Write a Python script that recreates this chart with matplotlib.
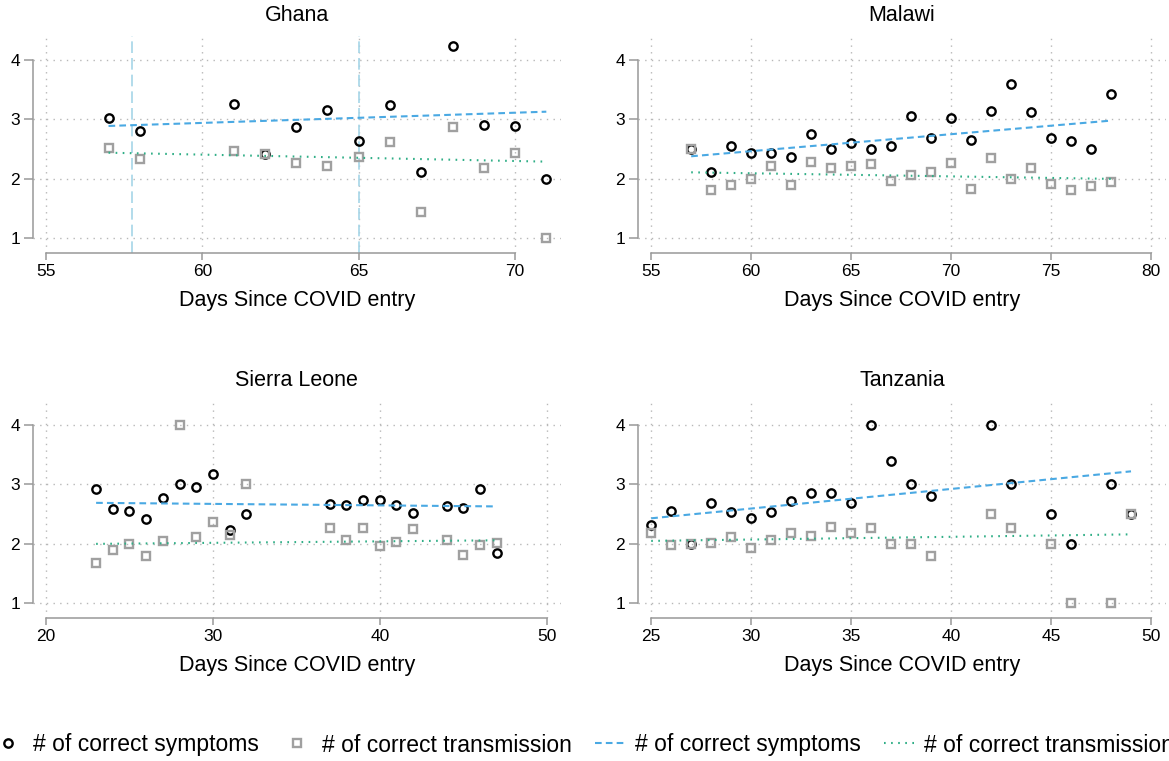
import matplotlib
matplotlib.use("Agg")
import matplotlib.pyplot as plt
from matplotlib.lines import Line2D

plt.rcParams['font.family'] = ['Liberation Sans', 'DejaVu Sans']

# ---------------- data ----------------
countries = ["Ghana", "Malawi", "Sierra Leone", "Tanzania"]

ghana_days = [57, 58, 61, 62, 63, 64, 65, 66, 67, 68, 69, 70, 71]
ghana_sym = [3.02, 2.80, 3.26, 2.42, 2.87, 3.16, 2.64, 3.24, 2.11, 4.23, 2.91, 2.89, 1.99]
ghana_tra = [2.52, 2.33, 2.47, 2.42, 2.26, 2.21, 2.36, 2.62, 1.44, 2.88, 2.18, 2.44, 1.00]
ghana_fit_days = [57, 71]
ghana_fit_sym = [2.89, 3.13]
ghana_fit_tra = [2.44, 2.29]
ghana_xlines = [57.75, 65]

malawi_days = [57, 58, 59, 60, 61, 62, 63, 64, 65, 66, 67, 68, 69, 70, 71, 72, 73, 74, 75, 76, 77, 78]
malawi_sym = [2.50, 2.11, 2.56, 2.43, 2.43, 2.37, 2.76, 2.50, 2.61, 2.50, 2.55, 3.06,
              2.69, 3.03, 2.66, 3.15, 3.60, 3.13, 2.68, 2.64, 2.50, 3.43]
malawi_tra = [2.50, 1.81, 1.89, 2.00, 2.22, 1.90, 2.29, 2.18, 2.22, 2.25, 1.97, 2.06,
              2.11, 2.27, 1.83, 2.35, 2.00, 2.19, 1.92, 1.82, 1.88, 1.94]
malawi_fit_days = [57, 78]
malawi_fit_sym = [2.38, 2.98]
malawi_fit_tra = [2.11, 2.00]

sl_days = [23, 24, 25, 26, 27, 28, 29, 30, 31, 32, 37, 38, 39, 40, 41, 42, 44, 45, 46, 47]
sl_sym = [2.92, 2.59, 2.56, 2.41, 2.77, 3.00, 2.95, 3.18, 2.24, 2.51, 2.67, 2.65, 2.74,
          2.74, 2.66, 2.52, 2.63, 2.61, 2.93, 1.85]
sl_tra = [1.67, 1.90, 2.00, 1.79, 2.05, 4.00, 2.12, 2.36, 2.15, 3.00, 2.27, 2.06, 2.27,
          1.97, 2.03, 2.25, 2.07, 1.81, 1.98, 2.01]
sl_fit_days = [23, 47]
sl_fit_sym = [2.69, 2.63]
sl_fit_tra = [2.00, 2.06]

tz_days = [25, 26, 27, 28, 29, 30, 31, 32, 33, 34, 35, 36, 37, 38, 39, 42, 43, 45, 46, 48, 49]
tz_sym = [2.31, 2.56, 2.00, 2.69, 2.53, 2.43, 2.54, 2.72, 2.85, 2.86, 2.69, 4.00, 3.40,
          3.00, 2.80, 4.00, 3.00, 2.50, 2.00, 3.00, 2.50]
tz_tra = [2.18, 1.98, 2.00, 2.02, 2.12, 1.93, 2.06, 2.19, 2.13, 2.29, 2.19, 2.26, 2.00,
          2.00, 1.80, 2.50, 2.26, 2.00, 1.00, 1.00, 2.50]
tz_fit_days = [25, 49]
tz_fit_sym = [2.43, 3.22]
tz_fit_tra = [2.05, 2.16]

ghana_xticks = [55, 60, 65, 70]
malawi_xticks = [55, 60, 65, 70, 75, 80]
sl_xticks = [20, 30, 40, 50]
tz_xticks = [25, 30, 35, 40, 45, 50]
yticks = [1, 2, 3, 4]

xlabel = "Days Since COVID entry"
legend_labels = ["# of correct symptoms", "# of correct transmission",
                 "# of correct symptoms", "# of correct transmission"]

# ---------------- styling ----------------
W, H = 1169, 761
fig = plt.figure(figsize=(W / 100, H / 100), dpi=100)
fig.patch.set_facecolor("white")

SYM_C = "black"
TRA_C = "#a0a0a0"
FIT_SYM_C = "#4aa9e3"
FIT_TRA_C = "#2fae86"
XLINE_C = "#a6d6e8"
GRID_C = "#b8b8b8"
AXIS_C = "#999999"

panels = [
    dict(name=countries[0], days=ghana_days, sym=ghana_sym, tra=ghana_tra,
         fd=ghana_fit_days, fs=ghana_fit_sym, ft=ghana_fit_tra, xt=ghana_xticks,
         xlim=(54.575, 71.46), xlines=ghana_xlines, pos=(32.7, 35.6)),
    dict(name=countries[1], days=malawi_days, sym=malawi_sym, tra=malawi_tra,
         fd=malawi_fit_days, fs=malawi_fit_sym, ft=malawi_fit_tra, xt=malawi_xticks,
         xlim=(54.34, 80.75), xlines=[], pos=(638, 35.6)),
    dict(name=countries[2], days=sl_days, sym=sl_sym, tra=sl_tra,
         fd=sl_fit_days, fs=sl_fit_sym, ft=sl_fit_tra, xt=sl_xticks,
         xlim=(19.2, 50.84), xlines=[], pos=(32.7, 400.6)),
    dict(name=countries[3], days=tz_days, sym=tz_sym, tra=tz_tra,
         fd=tz_fit_days, fs=tz_fit_sym, ft=tz_fit_tra, xt=tz_xticks,
         xlim=(24.34, 50.75), xlines=[], pos=(638, 400.6)),
]

AX_W, AX_H = 528, 217.4
grid_ls = (0, (1, 3.8))
MS = 6.0
MEW = 1.7
FIT_SYM_LS = (0, (3.2, 2.0))
FIT_TRA_LS = (0, (0.8, 2.6))

for p in panels:
    left_px, top_px = p["pos"]
    ax = fig.add_axes([left_px / W, 1 - (top_px + AX_H) / H, AX_W / W, AX_H / H])
    ax.set_xlim(*p["xlim"])
    ax.set_ylim(0.753, 4.41)
    ax.set_xticks(p["xt"])
    ax.set_yticks(yticks)
    ax.set_yticklabels([str(v) for v in yticks])
    ax.set_xticklabels([str(v) for v in p["xt"]])

    ax.grid(True, color=GRID_C, linestyle=grid_ls, linewidth=1.0)
    ax.set_axisbelow(True)

    for s in ["top", "right"]:
        ax.spines[s].set_visible(False)
    for s in ["left", "bottom"]:
        ax.spines[s].set_color(AXIS_C)
        ax.spines[s].set_linewidth(1.1)
    ax.spines["left"].set_bounds(yticks[0], yticks[-1])
    ax.spines["bottom"].set_bounds(p["xt"][0], p["xt"][-1])

    ax.tick_params(axis="x", length=4.8, width=1.1, color=AXIS_C, labelsize=12.5,
                   pad=3, labelcolor="black")
    ax.tick_params(axis="y", length=6.2, width=1.1, color=AXIS_C, labelsize=12.5,
                   pad=3, labelcolor="black")

    for xv in p["xlines"]:
        ax.axvline(xv, color=XLINE_C, linewidth=1.2, linestyle=(0, (7, 3)), zorder=1)

    ax.plot(p["days"], p["sym"], linestyle="none", marker="o", markersize=MS,
            markerfacecolor="none", markeredgecolor=SYM_C, markeredgewidth=MEW, zorder=3)
    ax.plot(p["days"], p["tra"], linestyle="none", marker="s", markersize=MS - 0.3,
            markerfacecolor="none", markeredgecolor=TRA_C, markeredgewidth=MEW, zorder=3)
    ax.plot(p["fd"], p["fs"], color=FIT_SYM_C, linewidth=1.5,
            linestyle=FIT_SYM_LS, zorder=4)
    ax.plot(p["fd"], p["ft"], color=FIT_TRA_C, linewidth=1.5,
            linestyle=FIT_TRA_LS, zorder=4)

    ax.set_title(p["name"], fontsize=15.5, pad=10.5, color="black")
    ax.set_xlabel(xlabel, fontsize=15.5, labelpad=8, color="black")

handles = [
    Line2D([], [], linestyle="none", marker="o", markersize=MS, markerfacecolor="none",
           markeredgecolor=SYM_C, markeredgewidth=MEW),
    Line2D([], [], linestyle="none", marker="s", markersize=MS - 0.3, markerfacecolor="none",
           markeredgecolor=TRA_C, markeredgewidth=MEW),
    Line2D([], [], color=FIT_SYM_C, linewidth=1.5, linestyle=FIT_SYM_LS),
    Line2D([], [], color=FIT_TRA_C, linewidth=1.5, linestyle=FIT_TRA_LS),
]
fig.legend(handles, legend_labels, loc="center", bbox_to_anchor=(0.5 - 1 / W, 1 - 745 / H),
           ncol=4, frameon=False, fontsize=16.5, handlelength=1.3, handletextpad=0.45,
           columnspacing=1.0, borderpad=0, borderaxespad=0)

fig.savefig("out.png", dpi=100, facecolor="white")
